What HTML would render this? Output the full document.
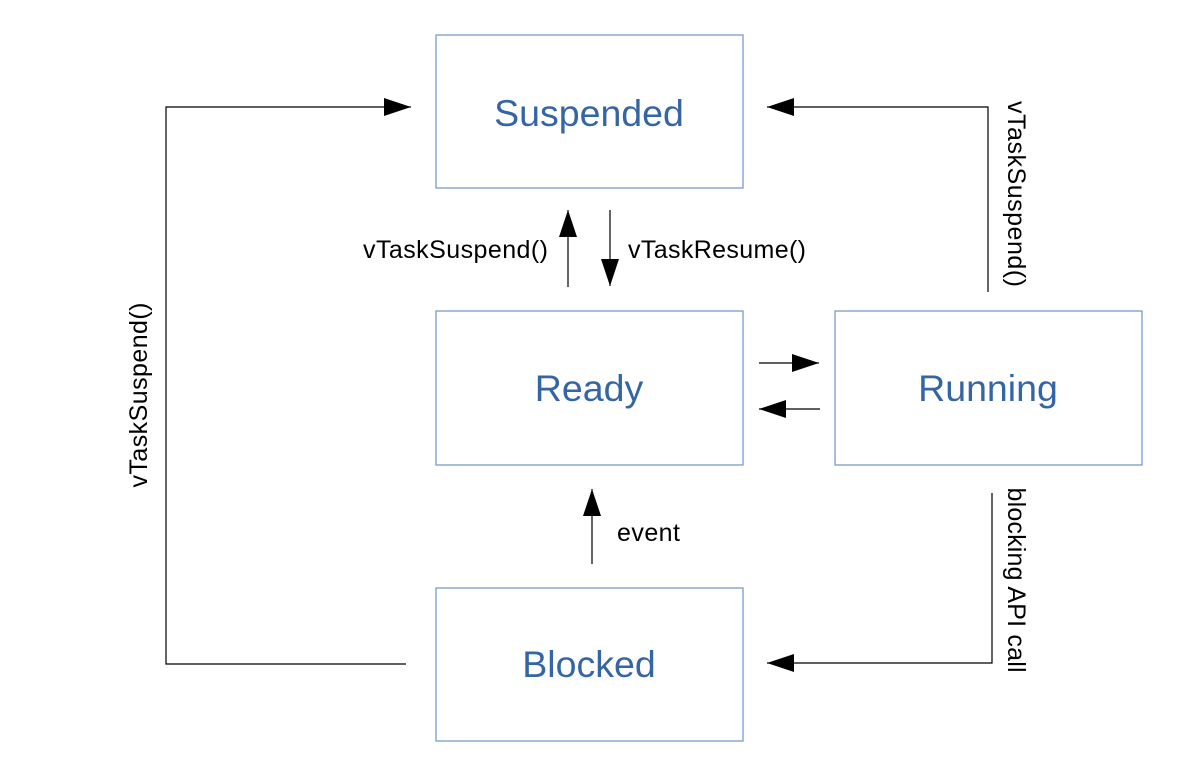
<!DOCTYPE html>
<html><head><style>
html,body{margin:0;padding:0;background:#fff}
svg{display:block}
</style></head><body>
<svg width="1185" height="778" xmlns="http://www.w3.org/2000/svg" font-family="Liberation Sans, sans-serif">
<defs>
<marker id="a" markerWidth="27" markerHeight="18" refX="27" refY="9" orient="auto" markerUnits="userSpaceOnUse">
<path d="M0,0 L27,9 L0,18 Z" fill="#000"/></marker>
</defs>
<g fill="none" stroke="#7b9cc9" stroke-width="1.3">
<rect x="436" y="35" width="307" height="153"/>
<rect x="436" y="311" width="307" height="154"/>
<rect x="835" y="311" width="307" height="154"/>
<rect x="436" y="588" width="307" height="153"/>
</g>
<g fill="#3465a4" font-size="37.5" text-anchor="middle">
<text x="589" y="126">Suspended</text>
<text x="589" y="401">Ready</text>
<text x="988" y="401">Running</text>
<text x="589" y="677">Blocked</text>
</g>
<g stroke="#000" stroke-width="1.2" fill="none" marker-end="url(#a)">
<line x1="568" y1="287" x2="568" y2="210"/>
<line x1="610" y1="210" x2="610" y2="286"/>
<line x1="759" y1="363" x2="819" y2="363"/>
<line x1="820" y1="409" x2="759" y2="409"/>
<line x1="592" y1="564" x2="592" y2="489"/>
<polyline points="406,664 166,664 166,107 411,107"/>
<polyline points="988,292 988,107 767,107"/>
<polyline points="992,493 992,663 767,663"/>
</g>
<g font-size="25" fill="#000">
<text x="363" y="258" textLength="185">vTaskSuspend()</text>
<text x="628" y="258" textLength="178">vTaskResume()</text>
<text x="617" y="541" textLength="63">event</text>
<text transform="translate(147,395) rotate(-90)" text-anchor="middle" textLength="185">vTaskSuspend()</text>
<text transform="translate(1008,194) rotate(90)" text-anchor="middle" textLength="186">vTaskSuspend()</text>
<text transform="translate(1008,580) rotate(90)" text-anchor="middle" textLength="185">blocking API call</text>
</g>
</svg>
</body></html>
